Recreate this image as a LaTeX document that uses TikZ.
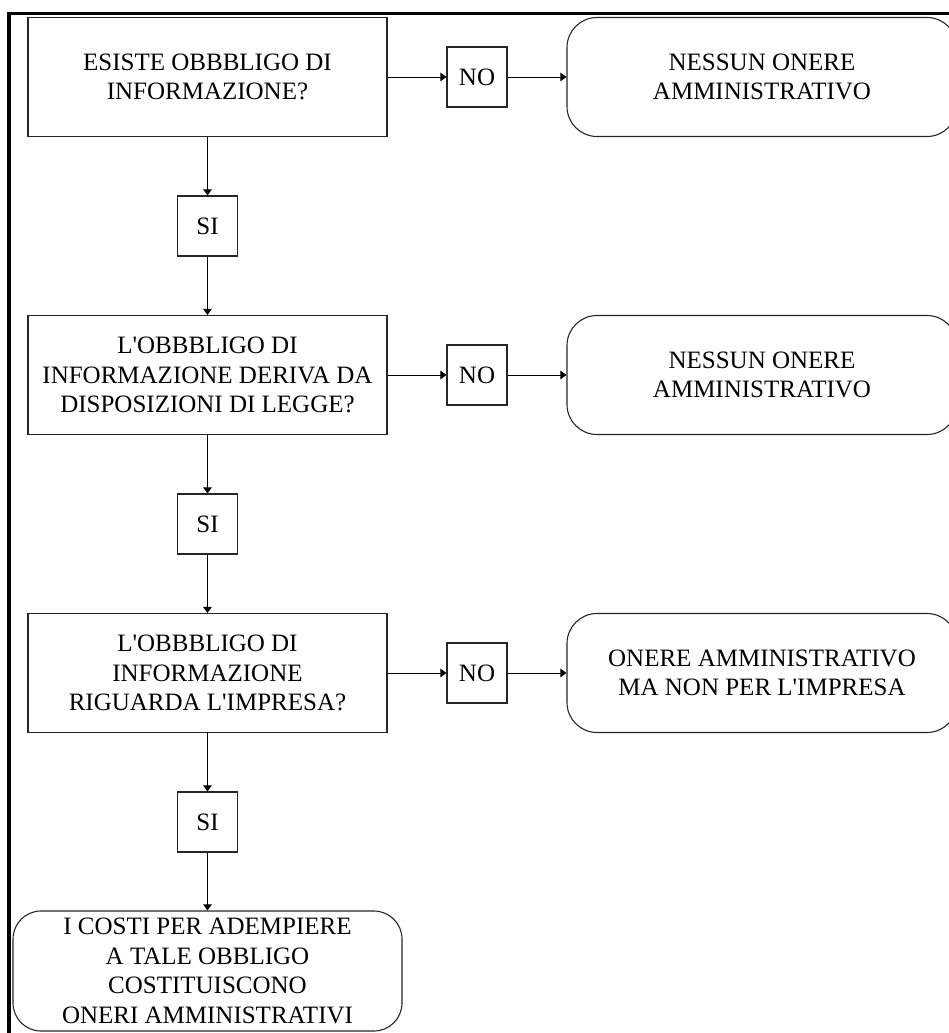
\documentclass[tikz,border=0pt]{standalone}
\usepackage{fontspec}
\setmainfont{Liberation Serif}
\usetikzlibrary{arrows.meta}
\definecolor{cline}{HTML}{262626}
\tikzset{
  every picture/.style={font=\fontsize{25}{29.5}\selectfont, line width=1pt},
  box/.style={draw=cline, line width=1.1pt, align=center, inner sep=0pt},
  question/.style={box, minimum width=359pt, minimum height=119pt},
  answer/.style={box, minimum width=60pt, minimum height=60pt},
  outcome/.style={box, rounded corners=30pt, minimum width=390pt, minimum height=119pt},
  arrow/.style={-{Triangle[length=6pt, width=8.5pt]}, draw=black, line width=1pt},
  frame/.style={line width=3.6pt},
}

\begin{document}
\begin{tikzpicture}[x=1pt, y=-1pt]
  \useasboundingbox (0,0) rectangle (949,1033);
  \clip (0,0) rectangle (949,1033);
  \draw[frame] (9,1045) -- (9,13.7) -- (960,13.7);
  \foreach \i/\q/\r in {
    1/{ESISTE OBBBLIGO DI\\INFORMAZIONE?}/{NESSUN ONERE\\AMMINISTRATIVO},
    2/{L\textquotesingle OBBBLIGO DI\\INFORMAZIONE DERIVA DA\\DISPOSIZIONI DI LEGGE?}/{NESSUN ONERE\\AMMINISTRATIVO},
    3/{L\textquotesingle OBBBLIGO DI\\INFORMAZIONE\\RIGUARDA L\textquotesingle IMPRESA?}/{ONERE AMMINISTRATIVO\\MA NON PER L\textquotesingle IMPRESA}} {
    \node[question] (q\i) at (207.5, {77+298*(\i-1)}) {\q};
    \node[answer] (no\i) at (477, {77+298*(\i-1)}) {NO};
    \node[outcome] (r\i) at (762, {77+298*(\i-1)}) {\r};
    \node[answer] (si\i) at (207.5, {226+298*(\i-1)}) {SI};
    \draw[arrow] (q\i) -- (no\i);
    \draw[arrow] (no\i) -- (r\i);
    \draw[arrow] (q\i) -- (si\i);
  }
  \node[box, rounded corners=28pt, minimum width=389pt, minimum height=120pt] (costi) at (207.5, 971)
    {I COSTI PER ADEMPIERE\\A TALE OBBLIGO\\COSTITUISCONO\\ONERI AMMINISTRATIVI};
  \foreach \i/\j in {1/2, 2/3} \draw[arrow] (si\i) -- (q\j);
  \draw[arrow] (si3) -- (costi);
\end{tikzpicture}
\end{document}
